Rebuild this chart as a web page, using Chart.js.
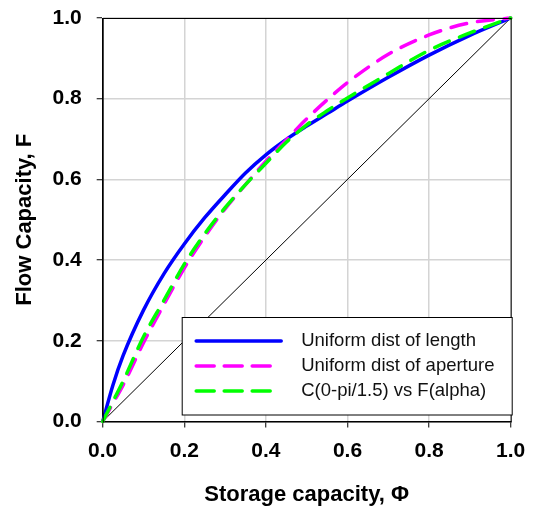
<!DOCTYPE html>
<html>
<head>
<meta charset="utf-8">
<script src="https://cdn.jsdelivr.net/npm/chart.js@4.4.1/dist/chart.umd.min.js"></script>
<style>
  html, body { margin: 0; padding: 0; background: #fff; }
  #wrap { width: 535px; height: 508px; }
</style>
</head>
<body>
<div id="wrap"><canvas id="myChart" width="535" height="508"></canvas></div>
<script>
// storage capacity (x) shared by the three curves
const phi = [0, 0.025, 0.05, 0.1, 0.15, 0.2, 0.25, 0.3, 0.35, 0.4, 0.45, 0.5, 0.55, 0.6, 0.7, 0.8, 0.9, 1.0];
// flow capacity for each case
const lengthF   = [0, 0.09, 0.163, 0.276, 0.366, 0.44, 0.505, 0.562, 0.616, 0.661, 0.699, 0.732, 0.763, 0.794, 0.853, 0.908, 0.957, 1.0];
const apertureF = [0, 0.045, 0.09, 0.195, 0.29, 0.38, 0.458, 0.527, 0.587, 0.645, 0.698, 0.75, 0.797, 0.84, 0.91, 0.958, 0.988, 1.0];
const alphaF    = [0, 0.05, 0.1, 0.21, 0.30, 0.39, 0.465, 0.53, 0.587, 0.64, 0.692, 0.735, 0.77, 0.802, 0.862, 0.92, 0.963, 1.0];
// homogeneous reference line
const diagPhi = [0, 1];
const diagF = [0, 1];

const seriesNames = ['Uniform dist of length', 'Uniform dist of aperture', 'C(0-pi/1.5) vs F(alpha)'];
const tickValues = [0, 0.2, 0.4, 0.6, 0.8, 1.0];

const FONT = "Arial, 'Liberation Sans', sans-serif";

function toPoints(xs, ys) {
  return xs.map((x, i) => ({ x: x, y: ys[i] }));
}

// frame round the plot + legend box inside the plot
const boxLegend = {
  id: 'boxLegend',
  afterDatasetsDraw(chart) {
    const ctx = chart.ctx;
    const a = chart.chartArea;
    ctx.save();
    ctx.strokeStyle = '#000';
    ctx.lineWidth = 1;
    ctx.strokeRect(a.left + 0.5, a.top + 0.5, a.right - a.left, a.bottom - a.top);

    const bx = a.left + 79.5, by = a.top + 299.5, bw = 330, bh = 97.5;
    ctx.fillStyle = '#fff';
    ctx.fillRect(bx, by, bw, bh);
    ctx.strokeRect(bx, by, bw, bh);

    const rows = [
      { ds: chart.data.datasets[2], y: by + 23.5, len: 85 },
      { ds: chart.data.datasets[1], y: by + 48.5, len: 77 },
      { ds: chart.data.datasets[0], y: by + 73.5, len: 77 }
    ];
    ctx.font = '18.5px ' + FONT;
    ctx.textBaseline = 'middle';
    rows.forEach(r => {
      ctx.beginPath();
      ctx.strokeStyle = r.ds.borderColor;
      ctx.lineWidth = 3.5;
      ctx.lineCap = 'round';
      ctx.setLineDash(r.ds.borderDash && r.ds.borderDash.length ? [18, 10] : []);
      ctx.moveTo(bx + 14, r.y);
      ctx.lineTo(bx + 14 + r.len, r.y);
      ctx.stroke();
      ctx.setLineDash([]);
      ctx.fillStyle = '#111';
      ctx.fillText(r.ds.label, bx + 119, r.y);
    });
    ctx.restore();
  }
};

const data = {
  datasets: [{
    label: seriesNames[2],
    data: toPoints(phi, alphaF),
    borderColor: '#00ff00',
    borderWidth: 3.5,
    borderDash: [16, 11],
    borderCapStyle: 'round',
    order: 1
  }, {
    label: seriesNames[1],
    data: toPoints(phi, apertureF),
    borderColor: '#ff00ff',
    borderWidth: 3.5,
    borderDash: [16, 11],
    borderCapStyle: 'round',
    order: 2
  }, {
    label: seriesNames[0],
    data: toPoints(phi, lengthF),
    borderColor: '#0000ff',
    borderWidth: 3.5,
    order: 3
  }, {
    label: 'diagonal',
    data: toPoints(diagPhi, diagF),
    borderColor: '#000',
    borderWidth: 1,
    cubicInterpolationMode: 'default',
    tension: 0,
    order: 4
  }]
};

const myChart = new Chart(document.getElementById('myChart'), {
  type: 'scatter',
  data: data,
  plugins: [boxLegend],
  options: {
    responsive: false,
    animation: false,
    showLine: true,
    clip: false,
    elements: {
      point: { radius: 0, hoverRadius: 0 },
      line: { cubicInterpolationMode: 'monotone', fill: false }
    },
    layout: { padding: { top: 18, right: 24.3, left: 0, bottom: 0 } },
    plugins: {
      legend: { display: false },
      tooltip: { enabled: false }
    },
    scales: {
      x: {
        type: 'linear',
        min: 0,
        max: 1,
        afterBuildTicks: s => { s.ticks = tickValues.map(v => ({ value: v })); },
        afterFit: s => { s.height = 86.5; s.paddingLeft = 0; s.paddingRight = 0; },
        ticks: {
          color: '#000',
          padding: 11.6,
          font: { family: FONT, size: 21, weight: 'bold' },
          callback: v => Number(v).toFixed(1)
        },
        grid: { color: '#d4d4d4', lineWidth: 1.5, tickColor: '#000', tickLength: 6, tickWidth: 1 },
        border: { color: '#000', width: 1 },
        title: {
          display: true,
          text: 'Storage capacity, Φ',
          color: '#000',
          font: { family: FONT, size: 22, weight: 'bold' },
          padding: { top: 0, bottom: 0.3 }
        }
      },
      y: {
        type: 'linear',
        min: 0,
        max: 1,
        afterBuildTicks: s => { s.ticks = tickValues.map(v => ({ value: v })); },
        afterFit: s => { s.width = 102.7; s.paddingTop = 0; s.paddingBottom = 0; },
        ticks: {
          color: '#000',
          padding: 15,
          font: { family: FONT, size: 21, weight: 'bold' },
          callback: v => Number(v).toFixed(1)
        },
        grid: { color: '#d4d4d4', lineWidth: 1.5, tickColor: '#000', tickLength: 6, tickWidth: 1 },
        border: { color: '#000', width: 1 },
        title: {
          display: true,
          text: 'Flow Capacity, F',
          color: '#000',
          font: { family: FONT, size: 22, weight: 'bold' },
          padding: { top: 11.8, bottom: 0 }
        }
      }
    }
  }
});
</script>
</body>
</html>
